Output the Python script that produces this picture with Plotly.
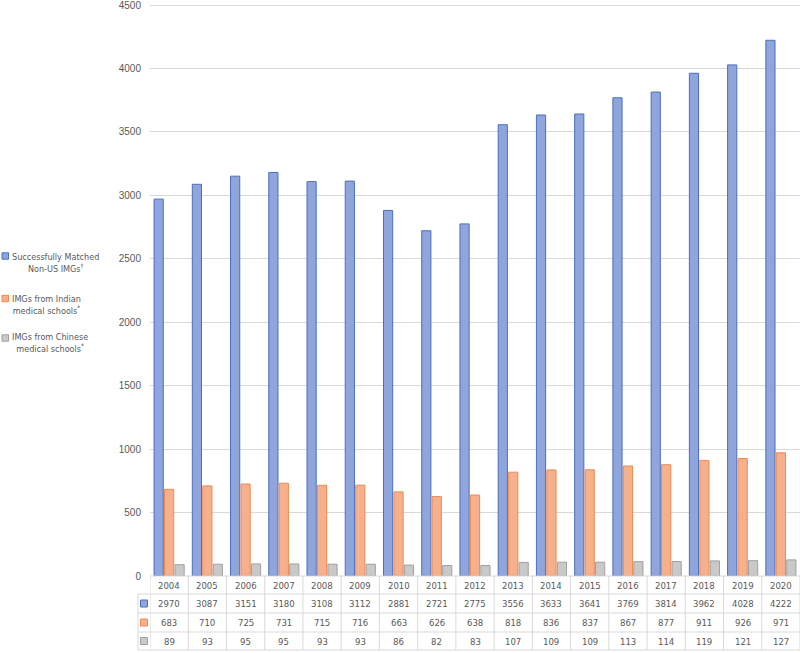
import plotly.graph_objects as go

years = [str(y) for y in range(2004, 2021)]
matched = [2970, 3087, 3151, 3180, 3108, 3112, 2881, 2721, 2775, 3556, 3633, 3641, 3769, 3814, 3962, 4028, 4222]
indian = [683, 710, 725, 731, 715, 716, 663, 626, 638, 818, 836, 837, 867, 877, 911, 926, 971]
chinese = [89, 93, 95, 95, 93, 93, 86, 82, 83, 107, 109, 109, 113, 114, 119, 121, 127]

names = ["Successfully Matched<br>Non-US IMGs<sup>†</sup>",
         "IMGs from Indian<br>medical schools<sup>*</sup>",
         "IMGs from Chinese<br>medical schools<sup>*</sup>"]
series = [matched, indian, chinese]
fills = ["#8fa5dc", "#f6b08b", "#c9c9c9"]
edges = ["#4a6fc0", "#ed8a50", "#a0a0a0"]

y_ticks = list(range(0, 4501, 500))

NARROW = "Liberation Sans Narrow, DejaVu Sans Condensed, Roboto Condensed, Arial Narrow, Roboto, sans-serif"
TXT = "#595959"
GRID = "#d9d9d9"

fig = go.Figure()
for i, (nm, vals) in enumerate(zip(names, series)):
    fig.add_trace(go.Bar(
        x=years, y=vals, name=nm, showlegend=False,
        marker=dict(color=fills[i], line=dict(color=edges[i], width=1)),
    ))

# Geometry helpers (plot area: x 150..800 px, y 3..576 px; 4500 sits at y=5)
TOP = 3
H = 576.0 - TOP
W = 650.0
PXPERUNIT = 571.0 / 4500.0
YMAX = H / PXPERUNIT
def py(p):
    return (576 - p) / H
def px(p):
    return (p - 150) / W

row_centers = [py(585.5), py(603.5), py(622.5), py(641)]
row_lines = [py(576), py(594), py(613), py(632), py(650)]
key_left = px(138)

annotations = []
for j, yr in enumerate(years):
    annotations.append(dict(x=j, y=row_centers[0], xref="x", yref="paper", text=yr,
                            showarrow=False, yanchor="middle", xanchor="center",
                            font=dict(family=NARROW, size=9.5, color=TXT)))
    for r, vals in enumerate(series):
        annotations.append(dict(x=j, y=row_centers[r + 1], xref="x", yref="paper", text=str(vals[j]),
                                showarrow=False, yanchor="middle", xanchor="center",
                                font=dict(family=NARROW, size=9.5, color=TXT)))

shapes = []
shapes.append(dict(type="line", xref="paper", yref="paper", x0=0, x1=1, y0=row_lines[0], y1=row_lines[0],
                   line=dict(color=GRID, width=1)))
for yl in row_lines[1:]:
    shapes.append(dict(type="line", xref="paper", yref="paper", x0=key_left, x1=1, y0=yl, y1=yl,
                       line=dict(color=GRID, width=1)))
for j in range(len(years) + 1):
    shapes.append(dict(type="line", xref="x", yref="paper", x0=j - 0.5, x1=j - 0.5,
                       y0=row_lines[0], y1=row_lines[-1], line=dict(color=GRID, width=1)))
shapes.append(dict(type="line", xref="paper", yref="paper", x0=key_left, x1=key_left,
                   y0=row_lines[1], y1=row_lines[-1], line=dict(color=GRID, width=1)))
for r in range(3):
    c = row_centers[r + 1]
    shapes.append(dict(type="rect", xref="paper", yref="paper", x0=px(140.5), x1=px(147.5),
                       y0=c - 3.5 / H, y1=c + 3.5 / H,
                       fillcolor=fills[r], line=dict(color=edges[r], width=1)))

# legend (left side): centred two-line labels with key squares
legend_centers = [262.5, 305, 343]
legend_keys = [256, 298.5, 338]
for r in range(3):
    annotations.append(dict(x=px(10), y=py(legend_centers[r]), xref="paper", yref="paper",
                            text=names[r], showarrow=False, xanchor="left", yanchor="middle",
                            align="center", font=dict(family=NARROW, size=9, color=TXT)))
    shapes.append(dict(type="rect", xref="paper", yref="paper", x0=px(2), x1=px(8.5),
                       y0=py(legend_keys[r] + 3.2), y1=py(legend_keys[r] - 3.2),
                       fillcolor=fills[r], line=dict(color=edges[r], width=1)))

fig.update_layout(
    width=800, height=653,
    margin=dict(l=150, r=0, t=TOP, b=77),
    paper_bgcolor="white", plot_bgcolor="white",
    barmode="group", bargap=0.18, bargroupgap=0.12,
    font=dict(family=NARROW, size=10, color=TXT),
    showlegend=False,
    xaxis=dict(type="category", range=[-0.5, len(years) - 0.5], showticklabels=False,
               showgrid=False, showline=False, zeroline=False, ticks=""),
    yaxis=dict(range=[0, YMAX], tickvals=y_ticks, showgrid=True, gridcolor=GRID, gridwidth=1,
               zeroline=False, showline=False, ticks="", ticklabelstandoff=8,
               ticklabeloverflow="allow",
               tickfont=dict(family="Liberation Sans, sans-serif", size=10, color=TXT)),
    annotations=annotations,
    shapes=shapes,
)

fig.write_html("out.html", config={"displayModeBar": False},
               post_script="document.body.style.margin='0';")
